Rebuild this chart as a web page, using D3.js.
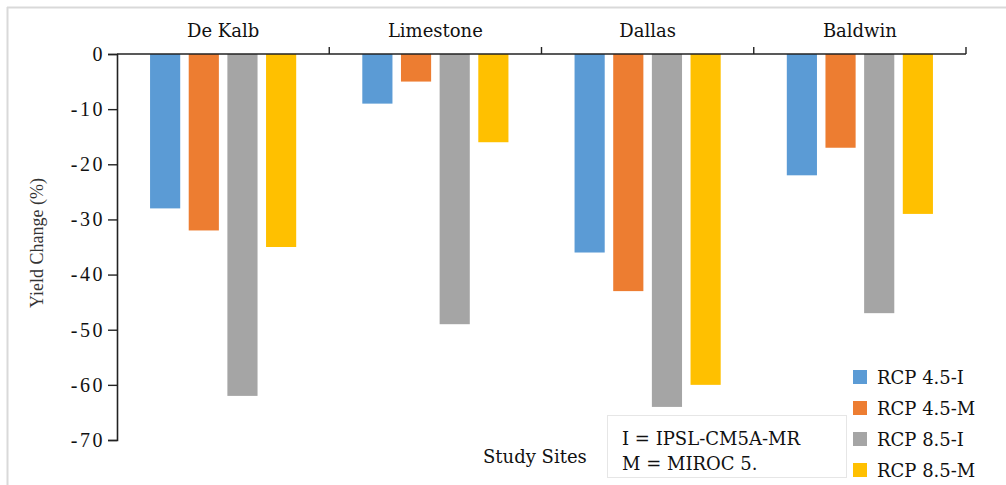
<!DOCTYPE html>
<html><head><meta charset="utf-8">
<script src="https://cdn.jsdelivr.net/npm/d3@7"></script>
<style>
html,body{margin:0;padding:0;background:#fff;}
svg{display:block;}
</style></head>
<body>
<svg id="chart" width="1006" height="485"></svg>
<script>
const categories = ["De Kalb", "Limestone", "Dallas", "Baldwin"];
const seriesNames = ["RCP 4.5-I", "RCP 4.5-M", "RCP 8.5-I", "RCP 8.5-M"];
const rcp45I = [-28, -9, -36, -22];
const rcp45M = [-32, -5, -43, -17];
const rcp85I = [-62, -49, -64, -47];
const rcp85M = [-35, -16, -60, -29];
const yTicks = [0, -10, -20, -30, -40, -50, -60, -70];
const colors = ["#5b9bd5", "#ed7d31", "#a5a5a5", "#ffc000"];
const noteLines = ["I = IPSL-CM5A-MR", "M = MIROC 5."];

const seriesValues = [rcp45I, rcp45M, rcp85I, rcp85M];
const svg = d3.select("#chart");

// outer frame (top & left)
svg.append("line").attr("x1", 7).attr("x2", 1006).attr("y1", 7.5).attr("y2", 7.5)
  .attr("stroke", "#d9d9d9").attr("stroke-width", 2);
svg.append("line").attr("x1", 7.5).attr("x2", 7.5).attr("y1", 7).attr("y2", 485)
  .attr("stroke", "#d9d9d9").attr("stroke-width", 2);

const x0 = d3.scaleBand().domain(categories).range([117, 966]).padding(0);
const x1 = d3.scaleBand().domain(seriesNames).range([0, x0.bandwidth()])
  .paddingInner(0.22).paddingOuter(0.855);
const y = d3.scaleLinear().domain([-70, 0]).range([440, 54]);

// bars
const groups = svg.append("g").selectAll("g").data(categories).join("g")
  .attr("transform", d => `translate(${x0(d)},0)`);
groups.selectAll("rect")
  .data((c, ci) => seriesNames.map((s, si) => ({s, si, v: seriesValues[si][ci]})))
  .join("rect")
  .attr("x", d => x1(d.s))
  .attr("width", x1.bandwidth())
  .attr("y", d => y(0))
  .attr("height", d => y(d.v) - y(0))
  .attr("fill", d => colors[d.si]);

// y axis
const yAxis = d3.axisLeft(y).tickValues(yTicks).tickSize(9).tickPadding(3)
  .tickFormat(d => d === 0 ? "0" : "-" + Math.abs(d));
const gy = svg.append("g").attr("transform", "translate(117,0)").call(yAxis);
gy.attr("font-family", "'Liberation Serif', serif");
gy.select(".domain").attr("stroke", "#222").attr("stroke-width", 1.6);
gy.selectAll(".tick line").attr("stroke", "#222").attr("stroke-width", 1.4);
gy.selectAll(".tick text").attr("font-family", "'Liberation Serif', serif")
  .attr("font-size", 20).attr("fill", "#111").attr("letter-spacing", 2.5);

// top category axis
svg.append("line").attr("x1", x0.range()[0]).attr("x2", x0.range()[1])
  .attr("y1", y(0)).attr("y2", y(0)).attr("stroke", "#222").attr("stroke-width", 1.6);
const bounds = categories.slice(1).map(c => x0(c)).concat([x0.range()[1]]);
svg.append("g").selectAll("line").data(bounds).join("line")
  .attr("x1", d => d).attr("x2", d => d)
  .attr("y1", y(0)).attr("y2", y(0) - 7)
  .attr("stroke", "#222").attr("stroke-width", 1.4);
svg.append("g").selectAll("text").data(categories).join("text")
  .attr("x", d => x0(d) + x0.bandwidth() / 2)
  .attr("y", 37)
  .attr("text-anchor", "middle")
  .attr("font-family", "'DejaVu Serif', serif")
  .attr("font-size", 18)
  .attr("fill", "#111")
  .text(d => d);

// y label
svg.append("text")
  .attr("transform", "translate(43,243) rotate(-90)")
  .attr("text-anchor", "middle")
  .attr("font-family", "'Liberation Serif', serif")
  .attr("font-size", 18)
  .attr("fill", "#333")
  .text("Yield Change (%)");

// x label
svg.append("text").attr("x", 483).attr("y", 463)
  .attr("font-family", "'DejaVu Serif', serif").attr("font-size", 18)
  .attr("fill", "#111").text("Study Sites");

// note box
svg.append("rect").attr("x", 607.5).attr("y", 415.5).attr("width", 239).attr("height", 62)
  .attr("fill", "#fff").attr("stroke", "#e6e6e6").attr("stroke-width", 1);
svg.append("g").selectAll("text").data(noteLines).join("text")
  .attr("x", 622).attr("y", (d, i) => 445 + i * 25)
  .attr("font-family", "'DejaVu Serif', serif").attr("font-size", 18)
  .attr("fill", "#111").text(d => d);

// legend
const leg = svg.append("g").selectAll("g").data(seriesNames).join("g")
  .attr("transform", (d, i) => `translate(853,${377 + i * 31})`);
leg.append("rect").attr("x", 0).attr("y", -7).attr("width", 14).attr("height", 14)
  .attr("fill", (d, i) => colors[i]);
leg.append("text").attr("x", 24).attr("y", 7)
  .attr("font-family", "'DejaVu Serif', serif").attr("font-size", 18)
  .attr("fill", "#111").text(d => d);
</script>
</body></html>
